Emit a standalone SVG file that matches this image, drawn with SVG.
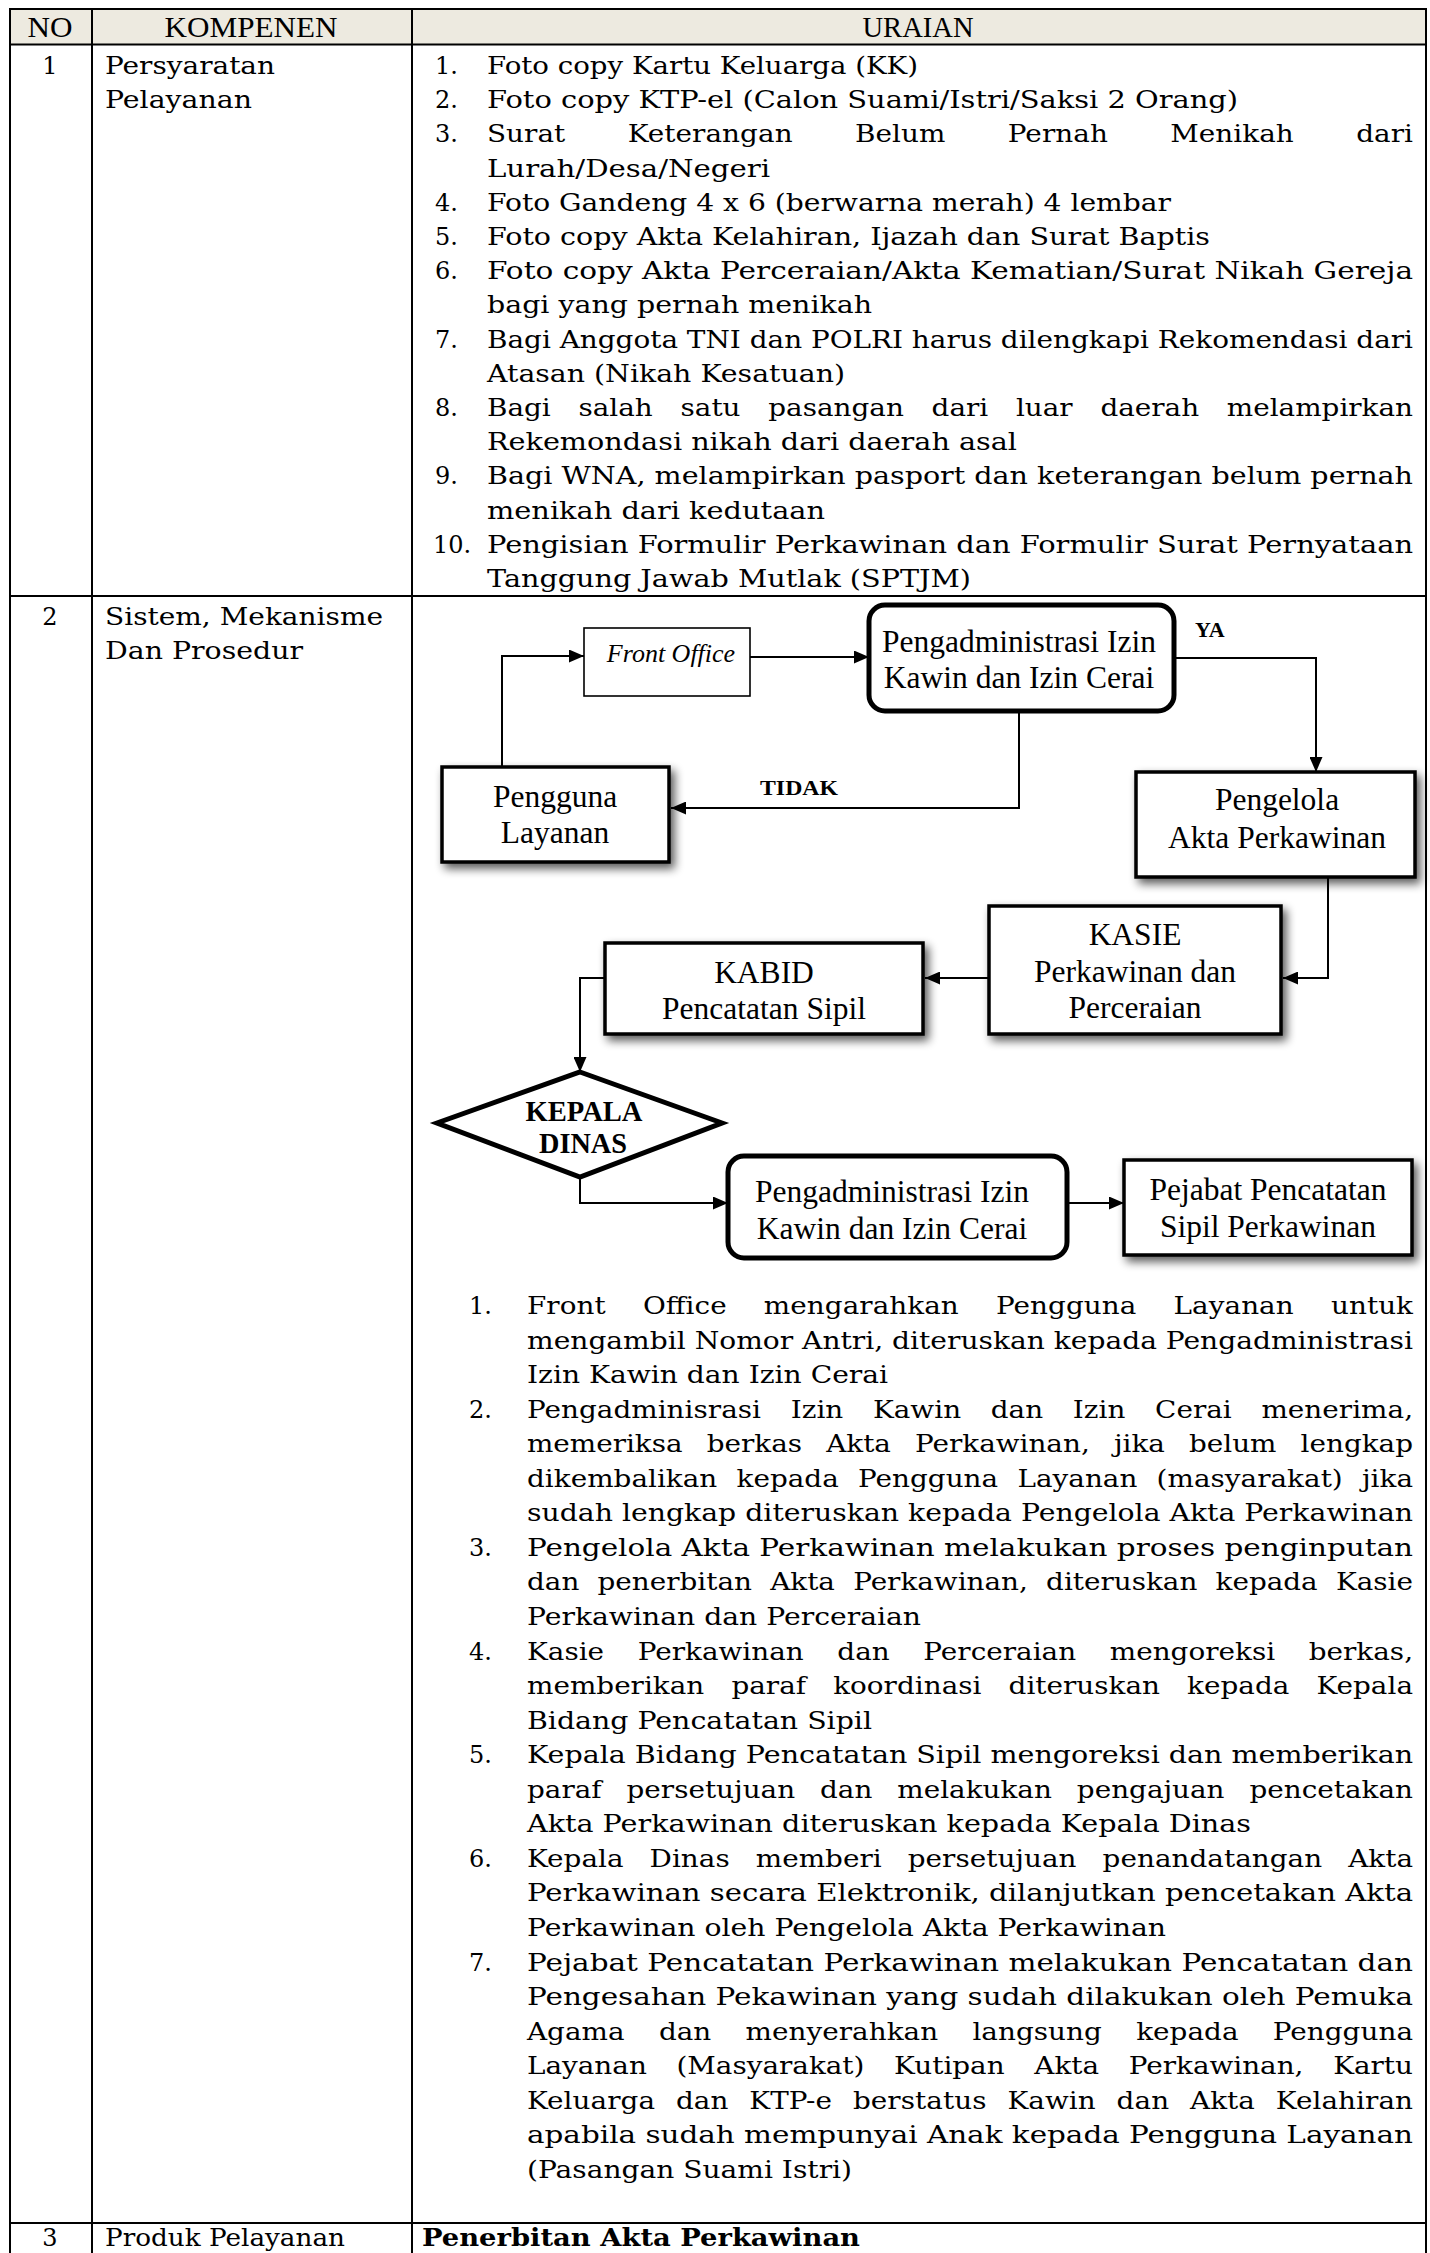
<svg xmlns="http://www.w3.org/2000/svg" width="1430" height="2253" viewBox="0 0 1430 2253">
<style>
.t{font-family:"DejaVu Serif","Liberation Serif",serif;font-size:24px;fill:#000}
.tb{font-family:"DejaVu Serif","Liberation Serif",serif;font-size:24px;font-weight:bold;fill:#000}
.h{font-family:"Liberation Serif","Times New Roman",serif;font-size:29px;fill:#000;text-anchor:middle}
.f{font-family:"Liberation Serif","Times New Roman",serif;font-size:31.5px;fill:#000;text-anchor:middle}
.fi{font-family:"Liberation Serif","Times New Roman",serif;font-size:26px;font-style:italic;fill:#000;text-anchor:middle}
.fb{font-family:"Liberation Serif","Times New Roman",serif;font-size:22px;font-weight:bold;fill:#000}
.fd{font-family:"Liberation Serif","Times New Roman",serif;font-size:30px;font-weight:bold;fill:#000;text-anchor:middle}
.grid{stroke:#000;stroke-width:2;fill:none}
.box{fill:#fff;stroke:#000;stroke-width:3.5}
.rbox{fill:#fff;stroke:#000;stroke-width:5}
.con{fill:none;stroke:#000;stroke-width:2}
</style>
<defs>
<filter id="sh" x="-15%" y="-20%" width="140%" height="160%">
<feGaussianBlur in="SourceAlpha" stdDeviation="5"/>
<feOffset dx="4" dy="5" result="o"/>
<feComponentTransfer><feFuncA type="linear" slope="0.65"/></feComponentTransfer>
<feMerge><feMergeNode/><feMergeNode in="SourceGraphic"/></feMerge>
</filter>
<marker id="ar" markerUnits="userSpaceOnUse" markerWidth="15" markerHeight="13" refX="15" refY="6.5" orient="auto">
<path d="M0,0 L15,6.5 L0,13 z" fill="#000"/>
</marker>
</defs>
<rect width="1430" height="2253" fill="#fff"/>

<g id="table">
<rect x="10" y="9" width="1416" height="35.5" fill="#EDEAE0"/>
<path class="grid" d="M10,2253 V9 H1426 V2253 M92,9 V2253 M412,9 V2253 M10,44.5 H1426 M10,596 H1426 M10,2223 H1426"/>
<text class="h" x="50" y="37" textLength="45" lengthAdjust="spacingAndGlyphs">NO</text>
<text class="h" x="251" y="37" textLength="173" lengthAdjust="spacingAndGlyphs">KOMPENEN</text>
<text class="h" x="918" y="37" textLength="111" lengthAdjust="spacingAndGlyphs">URAIAN</text>

<text class="t" x="50" y="74" text-anchor="middle">1</text>
<text class="t" x="105" y="74" textLength="170" lengthAdjust="spacingAndGlyphs">Persyaratan</text>
<text class="t" x="105" y="108.2" textLength="147" lengthAdjust="spacingAndGlyphs">Pelayanan</text>

<text class="t" x="50" y="625" text-anchor="middle">2</text>
<text class="t" x="105" y="625" textLength="278" lengthAdjust="spacingAndGlyphs">Sistem, Mekanisme</text>
<text class="t" x="105" y="659" textLength="198" lengthAdjust="spacingAndGlyphs">Dan Prosedur</text>

<text class="t" x="50" y="2246" text-anchor="middle">3</text>
<text class="t" x="105" y="2246" textLength="240" lengthAdjust="spacingAndGlyphs">Produk Pelayanan</text>
<text class="tb" x="422" y="2246" textLength="438" lengthAdjust="spacingAndGlyphs">Penerbitan Akta Perkawinan</text>
</g>

<g id="persyaratan">
<text class="t" x="435" y="74">1.</text>
<text class="t" x="487" y="74" textLength="431" lengthAdjust="spacingAndGlyphs">Foto copy Kartu Keluarga (KK)</text>
<text class="t" x="435" y="108.2">2.</text>
<text class="t" x="487" y="108.2" textLength="751" lengthAdjust="spacingAndGlyphs">Foto copy KTP-el (Calon Suami/Istri/Saksi 2 Orang)</text>
<text class="t" x="435" y="142.4">3.</text>
<text class="t" transform="translate(0 142.4) scale(1.16 1)" x="419.8" textLength="798.3" lengthAdjust="spacing" style="word-spacing:46.1px">Surat Keterangan Belum Pernah Menikah dari</text>
<text class="t" x="487" y="176.6" textLength="283" lengthAdjust="spacingAndGlyphs">Lurah/Desa/Negeri</text>
<text class="t" x="435" y="210.8">4.</text>
<text class="t" x="487" y="210.8" textLength="684" lengthAdjust="spacingAndGlyphs">Foto Gandeng 4 x 6 (berwarna merah) 4 lembar</text>
<text class="t" x="435" y="245">5.</text>
<text class="t" x="487" y="245" textLength="723" lengthAdjust="spacingAndGlyphs">Foto copy Akta Kelahiran, Ijazah dan Surat Baptis</text>
<text class="t" x="435" y="279.2">6.</text>
<text class="t" x="487" y="279.2" textLength="926" lengthAdjust="spacingAndGlyphs">Foto copy Akta Perceraian/Akta Kematian/Surat Nikah Gereja</text>
<text class="t" x="487" y="313.4" textLength="385" lengthAdjust="spacingAndGlyphs">bagi yang pernah menikah</text>
<text class="t" x="435" y="347.6">7.</text>
<text class="t" x="487" y="347.6" textLength="926" lengthAdjust="spacingAndGlyphs">Bagi Anggota TNI dan POLRI harus dilengkapi Rekomendasi dari</text>
<text class="t" x="487" y="381.8" textLength="358" lengthAdjust="spacingAndGlyphs">Atasan (Nikah Kesatuan)</text>
<text class="t" x="435" y="416">8.</text>
<text class="t" transform="translate(0 416) scale(1.16 1)" x="419.8" textLength="798.3" lengthAdjust="spacing" style="word-spacing:16.3px">Bagi salah satu pasangan dari luar daerah melampirkan</text>
<text class="t" x="487" y="450.2" textLength="530" lengthAdjust="spacingAndGlyphs">Rekemondasi nikah dari daerah asal</text>
<text class="t" x="435" y="484.4">9.</text>
<text class="t" x="487" y="484.4" textLength="926" lengthAdjust="spacingAndGlyphs">Bagi WNA, melampirkan pasport dan keterangan belum pernah</text>
<text class="t" x="487" y="518.6" textLength="338" lengthAdjust="spacingAndGlyphs">menikah dari kedutaan</text>
<text class="t" x="433" y="552.8">10.</text>
<text class="t" x="487" y="552.8" textLength="926" lengthAdjust="spacingAndGlyphs">Pengisian Formulir Perkawinan dan Formulir Surat Pernyataan</text>
<text class="t" x="487" y="587" textLength="484" lengthAdjust="spacingAndGlyphs">Tanggung Jawab Mutlak (SPTJM)</text>
</g>

<g id="connectors">
<path class="con" d="M502,767 V656 H584" marker-end="url(#ar)"/>
<path class="con" d="M750,657 H869" marker-end="url(#ar)"/>
<path class="con" d="M1174,658 H1316 V772" marker-end="url(#ar)"/>
<path class="con" d="M1019,711 V808 H671" marker-end="url(#ar)"/>
<path class="con" d="M1328,877 V978 H1283" marker-end="url(#ar)"/>
<path class="con" d="M989,978 H925" marker-end="url(#ar)"/>
<path class="con" d="M605,978 H580 V1072" marker-end="url(#ar)"/>
<path class="con" d="M580,1177 V1203 H728" marker-end="url(#ar)"/>
<path class="con" d="M1067,1203 H1124" marker-end="url(#ar)"/>
<text class="fb" x="1195" y="637">YA</text>
<text class="fb" x="760" y="795" textLength="78" lengthAdjust="spacingAndGlyphs">TIDAK</text>
</g>

<g id="front-office">
<rect x="584" y="628" width="166" height="68" fill="#fff" stroke="#000" stroke-width="1.6"/>
<text class="fi" x="671" y="662">Front Office</text>
</g>
<g id="pengadministrasi-1">
<rect class="rbox" x="869" y="605" width="305" height="106" rx="16"/>
<text class="f" x="1019" y="652">Pengadministrasi Izin</text>
<text class="f" x="1019" y="688">Kawin dan Izin Cerai</text>
</g>
<g id="pengguna-layanan">
<rect class="box" x="442" y="767" width="227" height="95" stroke-width="4" filter="url(#sh)"/>
<text class="f" x="555" y="807">Pengguna</text>
<text class="f" x="555" y="843">Layanan</text>
</g>
<g id="pengelola">
<rect class="box" x="1136" y="772" width="279" height="105" filter="url(#sh)"/>
<text class="f" x="1277" y="810">Pengelola</text>
<text class="f" x="1277" y="848">Akta Perkawinan</text>
</g>
<g id="kasie">
<rect class="box" x="989" y="906" width="292" height="128" filter="url(#sh)"/>
<text class="f" x="1135" y="945">KASIE</text>
<text class="f" x="1135" y="982">Perkawinan dan</text>
<text class="f" x="1135" y="1018">Perceraian</text>
</g>
<g id="kabid">
<rect class="box" x="605" y="943" width="318" height="91" filter="url(#sh)"/>
<text class="f" x="764" y="983">KABID</text>
<text class="f" x="764" y="1019">Pencatatan Sipil</text>
</g>
<g id="kepala-dinas">
<polygon points="580,1072 722,1123 580,1177 437,1123" fill="#fff" stroke="#000" stroke-width="5" stroke-linejoin="miter"/>
<text class="fd" x="584" y="1121" textLength="117" lengthAdjust="spacingAndGlyphs">KEPALA</text>
<text class="fd" x="583" y="1153" textLength="88" lengthAdjust="spacingAndGlyphs">DINAS</text>
</g>
<g id="pengadministrasi-2">
<rect class="rbox" x="728" y="1156" width="339" height="102" rx="16"/>
<text class="f" x="892" y="1202">Pengadministrasi Izin</text>
<text class="f" x="892" y="1239">Kawin dan Izin Cerai</text>
</g>
<g id="pejabat">
<rect class="box" x="1124" y="1160" width="288" height="95" stroke-width="3" filter="url(#sh)"/>
<text class="f" x="1268" y="1200">Pejabat Pencatatan</text>
<text class="f" x="1268" y="1237">Sipil Perkawinan</text>
</g>

<g id="prosedur">
<text class="t" x="469" y="1314">1.</text>
<text class="t" transform="translate(0 1314) scale(1.16 1)" x="454.3" textLength="763.8" lengthAdjust="spacing" style="word-spacing:24.4px">Front Office mengarahkan Pengguna Layanan untuk</text>
<text class="t" x="527" y="1348.6" textLength="886" lengthAdjust="spacingAndGlyphs">mengambil Nomor Antri, diteruskan kepada Pengadministrasi</text>
<text class="t" x="527" y="1383.1" textLength="361" lengthAdjust="spacingAndGlyphs">Izin Kawin dan Izin Cerai</text>
<text class="t" x="469" y="1417.7">2.</text>
<text class="t" transform="translate(0 1417.7) scale(1.16 1)" x="454.3" textLength="763.8" lengthAdjust="spacing" style="word-spacing:17.9px">Pengadminisrasi Izin Kawin dan Izin Cerai menerima,</text>
<text class="t" transform="translate(0 1452.2) scale(1.16 1)" x="454.3" textLength="763.8" lengthAdjust="spacing" style="word-spacing:13.2px">memeriksa berkas Akta Perkawinan, jika belum lengkap</text>
<text class="t" transform="translate(0 1486.8) scale(1.16 1)" x="454.3" textLength="763.8" lengthAdjust="spacing" style="word-spacing:8.9px">dikembalikan kepada Pengguna Layanan (masyarakat) jika</text>
<text class="t" x="527" y="1521.3" textLength="886" lengthAdjust="spacingAndGlyphs">sudah lengkap diteruskan kepada Pengelola Akta Perkawinan</text>
<text class="t" x="469" y="1555.9">3.</text>
<text class="t" x="527" y="1555.9" textLength="886" lengthAdjust="spacingAndGlyphs">Pengelola Akta Perkawinan melakukan proses penginputan</text>
<text class="t" transform="translate(0 1590.4) scale(1.16 1)" x="454.3" textLength="763.8" lengthAdjust="spacing" style="word-spacing:8.1px">dan penerbitan Akta Perkawinan, diteruskan kepada Kasie</text>
<text class="t" x="527" y="1625" textLength="394" lengthAdjust="spacingAndGlyphs">Perkawinan dan Perceraian</text>
<text class="t" x="469" y="1659.5">4.</text>
<text class="t" transform="translate(0 1659.5) scale(1.16 1)" x="454.3" textLength="763.8" lengthAdjust="spacing" style="word-spacing:21.3px">Kasie Perkawinan dan Perceraian mengoreksi berkas,</text>
<text class="t" transform="translate(0 1694.1) scale(1.16 1)" x="454.3" textLength="763.8" lengthAdjust="spacing" style="word-spacing:15.7px">memberikan paraf koordinasi diteruskan kepada Kepala</text>
<text class="t" x="527" y="1728.6" textLength="345" lengthAdjust="spacingAndGlyphs">Bidang Pencatatan Sipil</text>
<text class="t" x="469" y="1763.2">5.</text>
<text class="t" x="527" y="1763.2" textLength="886" lengthAdjust="spacingAndGlyphs">Kepala Bidang Pencatatan Sipil mengoreksi dan memberikan</text>
<text class="t" transform="translate(0 1797.7) scale(1.16 1)" x="454.3" textLength="763.8" lengthAdjust="spacing" style="word-spacing:13.9px">paraf persetujuan dan melakukan pengajuan pencetakan</text>
<text class="t" x="527" y="1832.3" textLength="724" lengthAdjust="spacingAndGlyphs">Akta Perkawinan diteruskan kepada Kepala Dinas</text>
<text class="t" x="469" y="1866.8">6.</text>
<text class="t" transform="translate(0 1866.8) scale(1.16 1)" x="454.3" textLength="763.8" lengthAdjust="spacing" style="word-spacing:14.8px">Kepala Dinas memberi persetujuan penandatangan Akta</text>
<text class="t" x="527" y="1901.4" textLength="886" lengthAdjust="spacingAndGlyphs">Perkawinan secara Elektronik, dilanjutkan pencetakan Akta</text>
<text class="t" x="527" y="1935.9" textLength="639" lengthAdjust="spacingAndGlyphs">Perkawinan oleh Pengelola Akta Perkawinan</text>
<text class="t" x="469" y="1970.5">7.</text>
<text class="t" x="527" y="1970.5" textLength="886" lengthAdjust="spacingAndGlyphs">Pejabat Pencatatan Perkawinan melakukan Pencatatan dan</text>
<text class="t" x="527" y="2005" textLength="886" lengthAdjust="spacingAndGlyphs">Pengesahan Pekawinan yang sudah dilakukan oleh Pemuka</text>
<text class="t" transform="translate(0 2039.6) scale(1.16 1)" x="454.3" textLength="763.8" lengthAdjust="spacing" style="word-spacing:21.9px">Agama dan menyerahkan langsung kepada Pengguna</text>
<text class="t" transform="translate(0 2074.1) scale(1.16 1)" x="454.3" textLength="763.8" lengthAdjust="spacing" style="word-spacing:18px">Layanan (Masyarakat) Kutipan Akta Perkawinan, Kartu</text>
<text class="t" transform="translate(0 2108.7) scale(1.16 1)" x="454.3" textLength="763.8" lengthAdjust="spacing" style="word-spacing:10.3px">Keluarga dan KTP-e berstatus Kawin dan Akta Kelahiran</text>
<text class="t" x="527" y="2143.2" textLength="886" lengthAdjust="spacingAndGlyphs">apabila sudah mempunyai Anak kepada Pengguna Layanan</text>
<text class="t" x="527" y="2177.8" textLength="325" lengthAdjust="spacingAndGlyphs">(Pasangan Suami Istri)</text>
</g>
</svg>
